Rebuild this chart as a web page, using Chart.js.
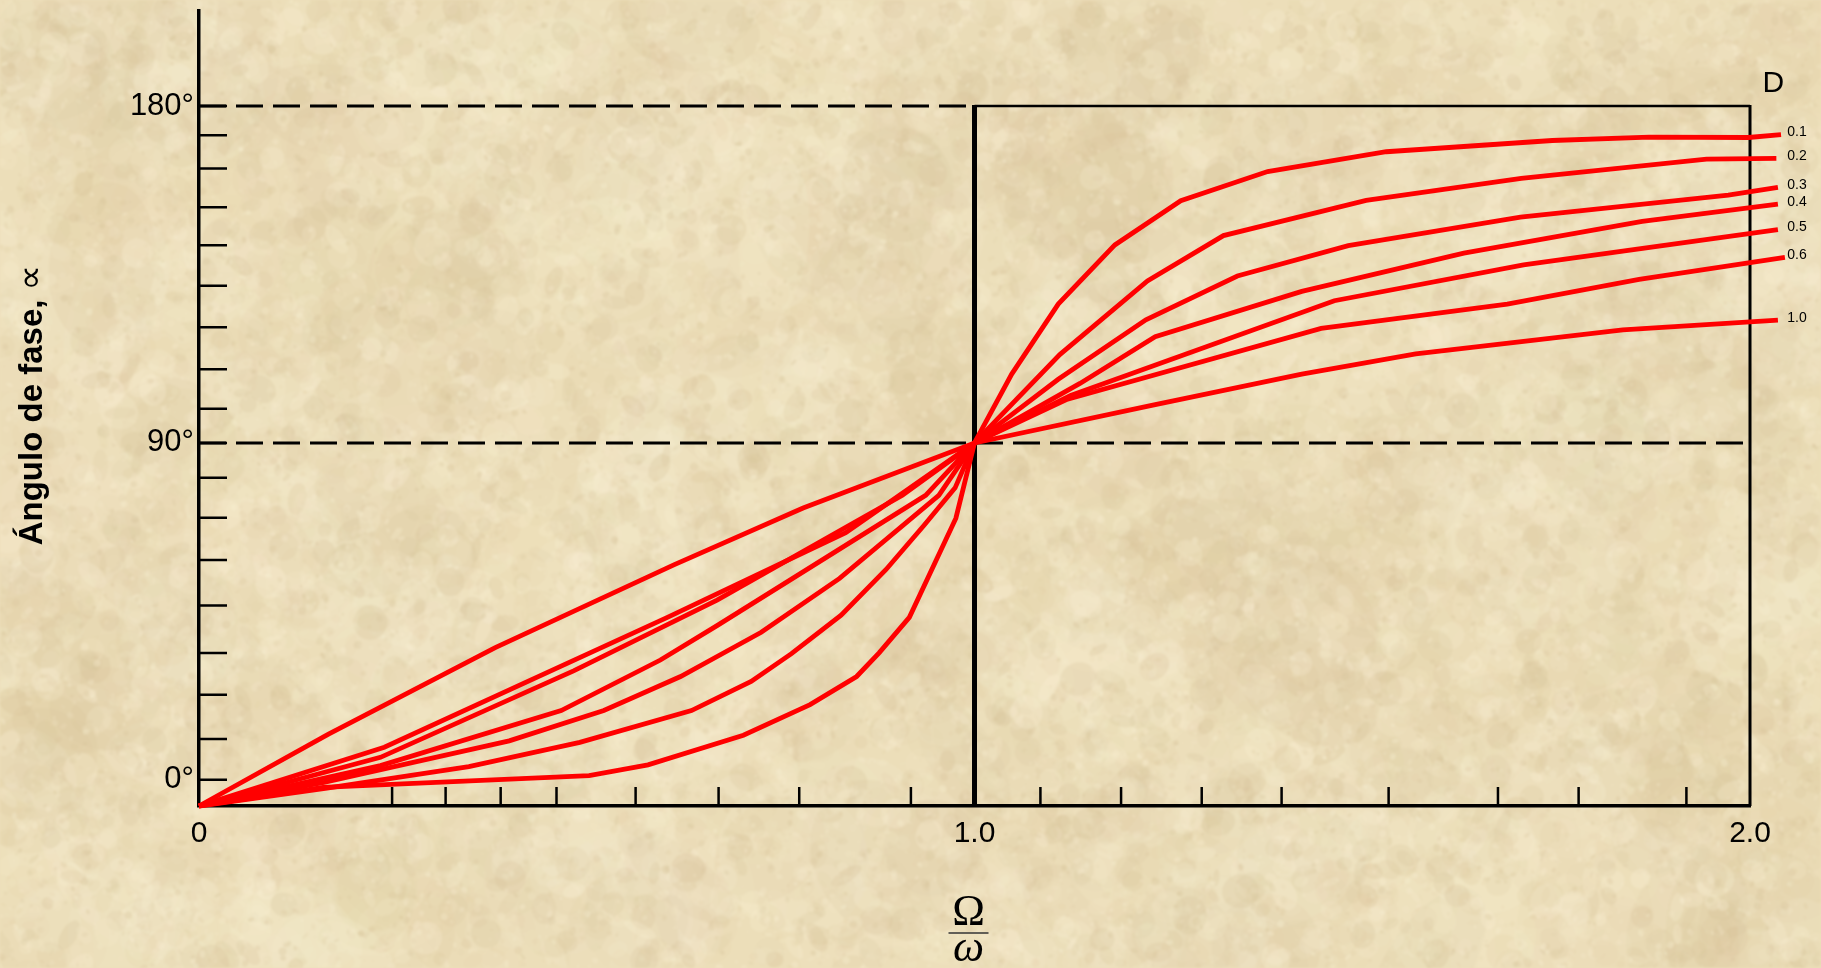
<!DOCTYPE html>
<html>
<head>
<meta charset="utf-8">
<title>Ángulo de fase</title>
<script src="https://cdn.jsdelivr.net/npm/chart.js@4.4.1/dist/chart.umd.min.js"></script>
<style>
  html, body { margin: 0; padding: 0; background: #ecdeb9; overflow: hidden; }
  canvas { display: block; }
</style>
</head>
<body>
<canvas id="phaseChart" width="1821" height="968"></canvas>
<script>
// damping ratios, one curve each
const dampingLabels = ['0.1', '0.2', '0.3', '0.4', '0.5', '0.6', '1.0'];

// frequency ratio (Ω/ω) and phase angle (degrees) per curve
const ratioD01 = [0, 0.160, 0.503, 0.579, 0.702, 0.788, 0.848, 0.877, 0.916, 0.976, 1, 1.048, 1.108, 1.181, 1.266, 1.378, 1.531, 1.745, 1.870, 1.998, 2.040];
const phaseD01 = [-7, -2.0, 1.1, 4.0, 11.9, 20.1, 27.6, 33.9, 43.4, 69.9, 90, 108.4, 127.1, 142.9, 154.7, 162.5, 167.8, 170.8, 171.7, 171.6, 172.4];

const ratioD02 = [0, 0.165, 0.348, 0.491, 0.635, 0.712, 0.764, 0.828, 0.886, 0.935, 0.975, 1, 1.110, 1.223, 1.321, 1.505, 1.705, 1.944, 2.034];
const phaseD02 = [-7, -2.2, 3.5, 10.0, 18.5, 26.3, 33.7, 44.0, 56.2, 68.0, 78.0, 90, 113.6, 133.3, 145.4, 154.8, 160.7, 165.8, 166.0];

const ratioD03 = [0, 0.161, 0.400, 0.522, 0.621, 0.725, 0.826, 0.954, 1, 1.108, 1.221, 1.339, 1.482, 1.704, 1.972, 2.036];
const phaseD03 = [-7, -0.7, 10.4, 18.5, 27.6, 39.4, 53.8, 76.0, 90, 107.0, 122.9, 134.6, 142.7, 150.3, 156.2, 158.3];

const ratioD04 = [0, 0.234, 0.467, 0.595, 0.668, 0.937, 1, 1.136, 1.233, 1.422, 1.631, 1.861, 2.036];
const phaseD04 = [-7, 3.8, 18.5, 32.0, 41.2, 76.0, 90, 105.9, 118.4, 130.5, 140.7, 149.2, 153.8];

const ratioD05 = [0, 0.234, 0.483, 0.668, 0.907, 1, 1.124, 1.464, 1.708, 2.036];
const phaseD05 = [-7, 6.0, 29.1, 48.0, 76.0, 90, 102.7, 128.0, 137.6, 147.0];

const ratioD06 = [0, 0.239, 0.604, 0.834, 1, 1.120, 1.447, 1.687, 1.857, 2.045];
const phaseD06 = [-7, 8.7, 43.4, 66.0, 90, 101.7, 120.6, 127.1, 133.7, 139.6];

const ratioD10 = [0, 0.167, 0.382, 0.613, 0.779, 1, 1.230, 1.422, 1.569, 1.836, 2.036];
const phaseD10 = [-7, 12.2, 35.3, 57.5, 72.6, 90, 100.1, 108.4, 113.8, 120.2, 122.8];

// axis ticks
const xMajorTicks = [0, 1, 2];
const xMajorLabels = ['0', '1.0', '2.0'];
const xMinorTicks = [0.249, 0.318, 0.389, 0.461, 0.563, 0.670, 0.774, 0.918, 1.085, 1.189, 1.293, 1.396, 1.534, 1.675, 1.779, 1.918];
const yMajorTicks = [0, 90, 180];
const yMajorLabels = ['0°', '90°', '180°'];
const yMinorTicks = [10.9, 22.7, 33.9, 46.6, 58.7, 70.0, 80.7, 99.1, 109.7, 120.9, 132.0, 142.8, 153.0, 163.3, 172.2];

const ratioSeries = [ratioD01, ratioD02, ratioD03, ratioD04, ratioD05, ratioD06, ratioD10];
const phaseSeries = [phaseD01, phaseD02, phaseD03, phaseD04, phaseD05, phaseD06, phaseD10];

Chart.defaults.font.family = '"Liberation Sans", Arial, sans-serif';
Chart.defaults.color = '#000';

// old paper look behind the plot
function makeParchment(w, h) {
  const c = document.createElement('canvas');
  c.width = w; c.height = h;
  const g = c.getContext('2d');
  g.fillStyle = '#ecdeb9';
  g.fillRect(0, 0, w, h);
  let seed = 20240611;
  const rnd = () => { seed = (seed * 16807) % 2147483647; return (seed - 1) / 2147483646; };
  const tones = [[250, 241, 214], [214, 194, 152], [229, 211, 171], [244, 232, 200]];
  const layer = (count, rMin, rMax, aMin, aMax) => {
    for (let i = 0; i < count; i++) {
      const t = tones[Math.floor(rnd() * tones.length)];
      const r = rMin + rnd() * (rMax - rMin);
      g.fillStyle = `rgba(${t[0]},${t[1]},${t[2]},${aMin + rnd() * (aMax - aMin)})`;
      g.beginPath();
      g.ellipse(rnd() * w, rnd() * h, r, r * (0.35 + rnd() * 0.8), rnd() * Math.PI, 0, Math.PI * 2);
      g.fill();
    }
  };
  layer(700, 30, 90, 0.08, 0.18);
  layer(7000, 5, 18, 0.10, 0.28);
  layer(16000, 1, 4, 0.12, 0.32);
  const out = document.createElement('canvas');
  out.width = w; out.height = h;
  const o = out.getContext('2d');
  o.filter = 'blur(1.2px)';
  o.drawImage(c, 0, 0);
  return out;
}

const parchment = makeParchment(1821, 968);

const paperBackground = {
  id: 'paperBackground',
  beforeDraw(chart) {
    chart.ctx.drawImage(parchment, 0, 0);
  }
};

// inward ticks, dashed reference lines and the frame right of Ω/ω = 1
const axisDecor = {
  id: 'axisDecor',
  beforeDatasetsDraw(chart) {
    const { ctx, chartArea, scales: { x, y } } = chart;
    ctx.save();
    ctx.strokeStyle = '#000';
    ctx.lineCap = 'butt';

    ctx.lineWidth = 2.5;
    ctx.beginPath();
    y.ticks.forEach(t => {
      const py = y.getPixelForValue(t.value);
      ctx.moveTo(chartArea.left, py);
      ctx.lineTo(chartArea.left + 28, py);
    });
    xMinorTicks.forEach(v => {
      const px = x.getPixelForValue(v);
      ctx.moveTo(px, chartArea.bottom);
      ctx.lineTo(px, chartArea.bottom - 19);
    });
    ctx.stroke();

    const x1 = x.getPixelForValue(1);
    const x2 = x.getPixelForValue(2);
    const y90 = y.getPixelForValue(90);
    const y180 = y.getPixelForValue(180);

    ctx.setLineDash([27, 10]);
    ctx.lineWidth = 3;
    ctx.beginPath();
    ctx.moveTo(chartArea.left, y180);
    ctx.lineTo(x1, y180);
    ctx.moveTo(chartArea.left, y90);
    ctx.lineTo(x2, y90);
    ctx.stroke();
    ctx.setLineDash([]);

    ctx.lineWidth = 2.5;
    ctx.beginPath();
    ctx.moveTo(x1, y180);
    ctx.lineTo(x2, y180);
    ctx.stroke();

    ctx.lineWidth = 3;
    ctx.beginPath();
    ctx.moveTo(x2, y180 - 1);
    ctx.lineTo(x2, chartArea.bottom);
    ctx.stroke();

    ctx.lineWidth = 5;
    ctx.beginPath();
    ctx.moveTo(x1, y180 - 1);
    ctx.lineTo(x1, chartArea.bottom);
    ctx.stroke();
    ctx.restore();
  },
  afterDatasetsDraw(chart) {
    const { ctx, scales: { x, y } } = chart;
    ctx.save();
    ctx.fillStyle = '#000';

    // curve labels at the right end
    ctx.font = '14px "Liberation Sans", Arial, sans-serif';
    ctx.textAlign = 'left';
    ctx.textBaseline = 'middle';
    const labelX = x.getPixelForValue(2.048);
    chart.data.datasets.forEach(ds => {
      const last = ds.data[ds.data.length - 1];
      ctx.fillText(ds.label, labelX, y.getPixelForValue(last.y) - 2);
    });

    ctx.font = '30px "Liberation Sans", Arial, sans-serif';
    ctx.textAlign = 'center';
    ctx.textBaseline = 'alphabetic';
    ctx.fillText('D', x.getPixelForValue(2.03), y.getPixelForValue(180) - 14);

    // Ω/ω axis title
    const cx = x.getPixelForValue(1) - 6;
    ctx.font = '44px "Liberation Serif", "Times New Roman", serif';
    ctx.fillText('Ω', cx, 925);
    ctx.font = 'italic 44px "Liberation Serif", "Times New Roman", serif';
    ctx.fillText('ω', cx, 961);
    ctx.strokeStyle = '#333';
    ctx.lineWidth = 1.5;
    ctx.beginPath();
    ctx.moveTo(cx - 20, 933);
    ctx.lineTo(cx + 20, 933);
    ctx.stroke();

    // rotated y-axis title, the ∝ sign set a little larger
    const word = 'Ángulo de fase, ';
    const sign = '∝';
    const wordFont = 'bold 33px "Liberation Sans", Arial, sans-serif';
    const signFont = '36px "DejaVu Sans", sans-serif';
    ctx.font = wordFont;
    const w1 = ctx.measureText(word).width;
    ctx.font = signFont;
    const w2 = ctx.measureText(sign).width;
    ctx.translate(42, 405);
    ctx.rotate(-Math.PI / 2);
    ctx.textAlign = 'left';
    ctx.font = wordFont;
    ctx.fillText(word, -(w1 + w2) / 2, 0);
    ctx.font = signFont;
    ctx.fillText(sign, -(w1 + w2) / 2 + w1, 0);
    ctx.restore();
  }
};

new Chart(document.getElementById('phaseChart'), {
  type: 'line',
  data: {
    datasets: dampingLabels.map((d, i) => ({
      label: d,
      data: ratioSeries[i].map((r, k) => ({ x: r, y: phaseSeries[i][k] })),
      borderColor: '#ff0000',
      borderWidth: 4.8,
      pointRadius: 0,
      tension: 0,
      fill: false,
      clip: false
    }))
  },
  options: {
    responsive: false,
    devicePixelRatio: 1,
    animation: false,
    layout: { autoPadding: false, padding: { top: 11, right: 71, bottom: 0, left: 0 } },
    plugins: { legend: { display: false }, tooltip: { enabled: false } },
    scales: {
      x: {
        type: 'linear',
        min: 0,
        max: 2,
        afterFit: s => { s.height = 162; s.paddingLeft = 0; s.paddingRight = 0; s.paddingTop = 0; s.paddingBottom = 0; },
        afterBuildTicks: s => { s.ticks = xMajorTicks.concat(xMinorTicks).map(v => ({ value: v })); },
        grid: { display: false, drawTicks: false },
        border: { display: true, color: '#000', width: 3.5 },
        ticks: {
          autoSkip: false,
          maxRotation: 0,
          minRotation: 0,
          padding: 10,
          font: { size: 30 },
          color: '#000',
          callback: v => { const i = xMajorTicks.indexOf(v); return i >= 0 ? xMajorLabels[i] : ''; }
        }
      },
      y: {
        type: 'linear',
        min: -7,
        max: 205.4,
        afterFit: s => { s.width = 199; s.paddingLeft = 0; s.paddingRight = 0; s.paddingTop = 0; s.paddingBottom = 0; },
        afterBuildTicks: s => { s.ticks = yMajorTicks.concat(yMinorTicks).map(v => ({ value: v })); },
        grid: { display: false, drawTicks: false },
        border: { display: true, color: '#000', width: 3.5 },
        ticks: {
          autoSkip: false,
          padding: 5,
          font: { size: 31 },
          color: '#000',
          callback: v => { const i = yMajorTicks.indexOf(v); return i >= 0 ? yMajorLabels[i] : ''; }
        }
      }
    }
  },
  plugins: [paperBackground, axisDecor]
});
</script>
</body>
</html>
